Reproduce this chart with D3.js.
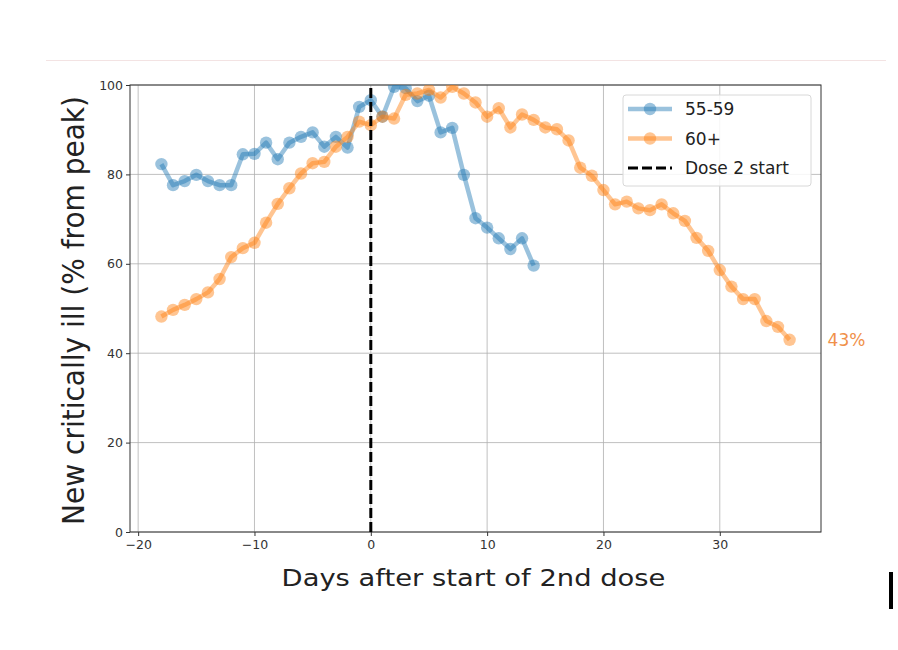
<!DOCTYPE html>
<html>
<head>
<meta charset="utf-8">
<script src="https://cdn.jsdelivr.net/npm/d3@7"></script>
<style>
  body { margin: 0; background: #fff; }
  text { font-family: "DejaVu Sans", sans-serif; }
</style>
</head>
<body>
<div id="chart"></div>
<script>
// Days relative to start of 2nd dose
const daysYoung = d3.range(-18, 15);
const daysOld = d3.range(-18, 37);

// New critically ill, % of peak
const young = [82.3, 77.6, 78.5, 79.9, 78.5, 77.6, 77.6, 84.5, 84.6, 87.1, 83.4,
  87.1, 88.4, 89.4, 86.2, 88.4, 86.0, 95.1, 96.6, 92.9, 99.6, 99.3, 96.4, 97.6,
  89.4, 90.4, 79.9, 70.2, 68.1, 65.7, 63.3, 65.7, 59.6];
const old = [48.2, 49.7, 50.8, 52.1, 53.6, 56.6, 61.5, 63.5, 64.7, 69.2, 73.4,
  76.9, 80.2, 82.5, 82.8, 86.2, 88.4, 91.8, 91.0, 92.9, 92.5, 97.8, 98.1, 98.9,
  97.2, 99.6, 98.1, 96.1, 92.9, 94.8, 90.5, 93.4, 92.2, 90.5, 90.1, 87.6, 81.5,
  79.7, 76.5, 73.3, 73.9, 72.4, 72.0, 73.3, 71.3, 69.6, 65.8, 62.9, 58.6, 54.9,
  52.1, 52.1, 47.2, 45.9, 43.0];

const xTicks = [-20, -10, 0, 10, 20, 30];
const yTicks = [0, 20, 40, 60, 80, 100];
const seriesNames = ["55-59", "60+", "Dose 2 start"];
const endLabel = "43%";

const width = 898, height = 650;
const margin = { left: 130, right: 77, top: 85, bottom: 118 };

const svg = d3.select("#chart").append("svg")
  .attr("width", width)
  .attr("height", height);

// faint rule at the top of the page
svg.append("line")
  .attr("x1", 46).attr("x2", 886).attr("y1", 60.5).attr("y2", 60.5)
  .attr("stroke", "#f3e3e3").attr("stroke-width", 1);

const x = d3.scaleLinear().domain([-20.7, 38.7]).range([margin.left, width - margin.right]);
const y = d3.scaleLinear().domain([0, 100]).range([height - margin.bottom, margin.top]);

// grid
svg.append("g").selectAll("line").data(xTicks).enter().append("line")
  .attr("x1", d => x(d)).attr("x2", d => x(d))
  .attr("y1", y(0)).attr("y2", y(100))
  .attr("stroke", "#b0b0b0").attr("stroke-width", 0.8);
svg.append("g").selectAll("line").data(yTicks).enter().append("line")
  .attr("x1", x.range()[0]).attr("x2", x.range()[1])
  .attr("y1", d => y(d)).attr("y2", d => y(d))
  .attr("stroke", "#b0b0b0").attr("stroke-width", 0.8);

// axes
const xAxis = svg.append("g")
  .attr("transform", `translate(0,${y(0)})`)
  .call(d3.axisBottom(x).tickValues(xTicks).tickSize(4).tickPadding(4)
    .tickFormat(d => d < 0 ? "\u2212" + Math.abs(d) : d));
const yAxis = svg.append("g")
  .attr("transform", `translate(${x.range()[0]},0)`)
  .call(d3.axisLeft(y).tickValues(yTicks).tickSize(4).tickPadding(3));
[xAxis, yAxis].forEach(a => {
  a.select(".domain").remove();
  a.selectAll("line").attr("stroke", "#333");
  a.selectAll("text").attr("fill", "#333").style("font-size", "12.5px");
});

// frame
svg.append("rect")
  .attr("x", x.range()[0]).attr("y", y(100))
  .attr("width", x.range()[1] - x.range()[0]).attr("height", y(0) - y(100))
  .attr("fill", "none").attr("stroke", "#333").attr("stroke-width", 1);

const line = d3.line().x(d => x(d[0])).y(d => y(d[1]));

svg.append("clipPath").attr("id", "clip").append("rect")
  .attr("x", x.range()[0]).attr("y", y(100))
  .attr("width", x.range()[1] - x.range()[0]).attr("height", y(0) - y(100));

function drawSeries(days, vals, color) {
  const pts = days.map((d, i) => [d, vals[i]]);
  const g = svg.append("g").attr("clip-path", "url(#clip)");
  g.append("path").datum(pts)
    .attr("d", line)
    .attr("fill", "none")
    .attr("stroke", color)
    .attr("stroke-opacity", 0.45)
    .attr("stroke-width", 4.5)
    .attr("stroke-linejoin", "round");
  g.selectAll("circle").data(pts).enter().append("circle")
    .attr("cx", d => x(d[0])).attr("cy", d => y(d[1]))
    .attr("r", 6.2)
    .attr("fill", color).attr("fill-opacity", 0.45);
}

drawSeries(daysYoung, young, "#1f77b4");
drawSeries(daysOld, old, "#ff7f0e");

// dose 2 line
svg.append("line")
  .attr("x1", x(0)).attr("x2", x(0)).attr("y1", y(0)).attr("y2", y(100))
  .attr("stroke", "#000").attr("stroke-width", 3)
  .attr("stroke-dasharray", "10,4");

// end label
svg.append("text")
  .attr("x", x(36) + 38).attr("y", y(old[old.length - 1]) + 6)
  .attr("fill", "#f0904a").style("font-size", "17px")
  .text(endLabel);

// axis titles (the picture is a little wider than tall, so stretch horizontally)
const cx = (x.range()[0] + x.range()[1]) / 2 - 2;
svg.append("text")
  .attr("transform", `translate(${cx},586) scale(1.19,1)`)
  .attr("text-anchor", "middle").attr("fill", "#222")
  .style("font-size", "23px")
  .text("Days after start of 2nd dose");
svg.append("text")
  .attr("transform", `translate(84,${(y(0) + y(100)) / 2 + 2}) scale(1.1,1) rotate(-90)`)
  .attr("text-anchor", "middle").attr("fill", "#222")
  .style("font-size", "28px")
  .text("New critically ill (% from peak)");

// legend
const lg = svg.append("g").attr("transform", "translate(623,95)");
lg.append("rect").attr("width", 188).attr("height", 91).attr("rx", 3)
  .attr("fill", "#fff").attr("fill-opacity", 0.85)
  .attr("stroke", "#d8d8d8");
const legendStyles = [
  { color: "#1f77b4", dash: null, marker: true },
  { color: "#ff7f0e", dash: null, marker: true },
  { color: "#000", dash: "10,4", marker: false }
];
seriesNames.forEach((name, i) => {
  const cy = 14 + i * 29.5;
  const s = legendStyles[i];
  lg.append("line").attr("x1", 5).attr("x2", 49).attr("y1", cy).attr("y2", cy)
    .attr("stroke", s.color).attr("stroke-width", s.marker ? 4.5 : 3)
    .attr("stroke-opacity", s.marker ? 0.45 : 1)
    .attr("stroke-dasharray", s.dash);
  if (s.marker) {
    lg.append("circle").attr("cx", 27).attr("cy", cy).attr("r", 6.2)
      .attr("fill", s.color).attr("fill-opacity", 0.45);
  }
  lg.append("text").attr("x", 62).attr("y", cy + 6)
    .attr("fill", "#222").style("font-size", "17px").text(name);
});

// black mark at lower right
svg.append("rect").attr("x", 889).attr("y", 572).attr("width", 4).attr("height", 37)
  .attr("fill", "#000");
</script>
</body>
</html>
